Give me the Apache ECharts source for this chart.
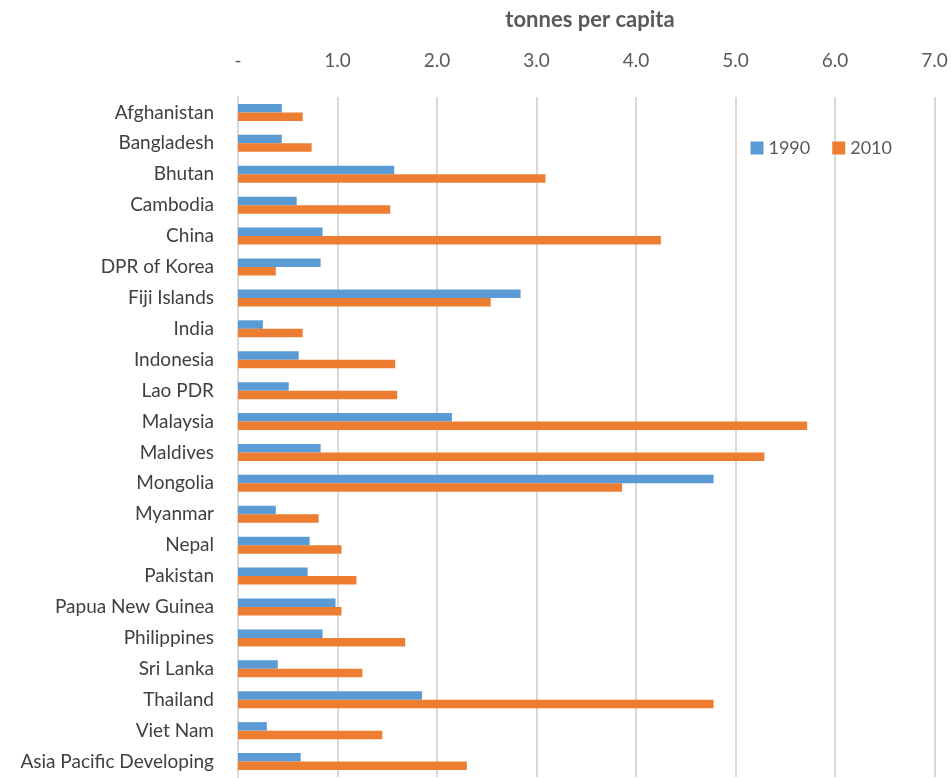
<!DOCTYPE html>
<html><head><meta charset="utf-8">
<script src="https://cdn.jsdelivr.net/npm/echarts@6/dist/echarts.min.js"></script>
<style>html,body{margin:0;padding:0;background:#fff}#c{width:951px;height:778px}</style>
</head><body><div id="c"></div>
<script>
const categories = ['Afghanistan','Bangladesh','Bhutan','Cambodia','China','DPR of Korea','Fiji Islands','India','Indonesia','Lao PDR','Malaysia','Maldives','Mongolia','Myanmar','Nepal','Pakistan','Papua New Guinea','Philippines','Sri Lanka','Thailand','Viet Nam','Asia Pacific Developing'];
const values1990 = [0.44,0.44,1.57,0.59,0.85,0.83,2.84,0.25,0.61,0.51,2.15,0.83,4.78,0.38,0.72,0.70,0.98,0.85,0.40,1.85,0.29,0.63];
const values2010 = [0.65,0.74,3.09,1.53,4.25,0.38,2.54,0.65,1.58,1.60,5.72,5.29,3.86,0.81,1.04,1.19,1.04,1.68,1.25,4.78,1.45,2.30];
const tickLabels = ['-','1.0','2.0','3.0','4.0','5.0','6.0','7.0'];
const seriesNames = ['1990','2010'];
const titleText = 'tonnes per capita';

const chart = echarts.init(document.getElementById('c'));
const font = 'Lato, "Open Sans", sans-serif';
chart.setOption({
  animation:false,
  textStyle:{fontFamily:font},
  title:{text:titleText,left:585,top:4,textAlign:'center',textStyle:{fontFamily:font,fontWeight:'bold',fontSize:22,color:'#595959'}},
  legend:{data:seriesNames,right:54,top:134,itemWidth:13,itemHeight:13,itemGap:22,icon:'rect',
    textStyle:{fontFamily:font,fontSize:18,color:'#595959'}},
  grid:{left:238,right:16.5,top:97,bottom:1,containLabel:false},
  xAxis:{type:'value',position:'top',min:0,max:7,interval:1,
    axisLine:{show:false},axisTick:{show:false},
    axisLabel:{margin:27,fontFamily:font,fontSize:19,color:'#595959',
      formatter:(v)=>tickLabels[Math.round(v)]},
    splitLine:{show:true,lineStyle:{color:'#d9d9d9',width:2}}},
  yAxis:{type:'category',data:categories,inverse:true,
    axisLine:{show:true,lineStyle:{color:'#d9d9d9',width:2}},axisTick:{show:false},
    axisLabel:{margin:24,fontFamily:font,fontSize:19,color:'#404040'}},
  series:[
    {name:seriesNames[0],type:'bar',data:values1990,barWidth:8.5,barGap:'0%',itemStyle:{color:'#5B9BD5'}},
    {name:seriesNames[1],type:'bar',data:values2010,barWidth:8.5,barGap:'0%',itemStyle:{color:'#ED7D31'}}
  ]
});
</script></body></html>
